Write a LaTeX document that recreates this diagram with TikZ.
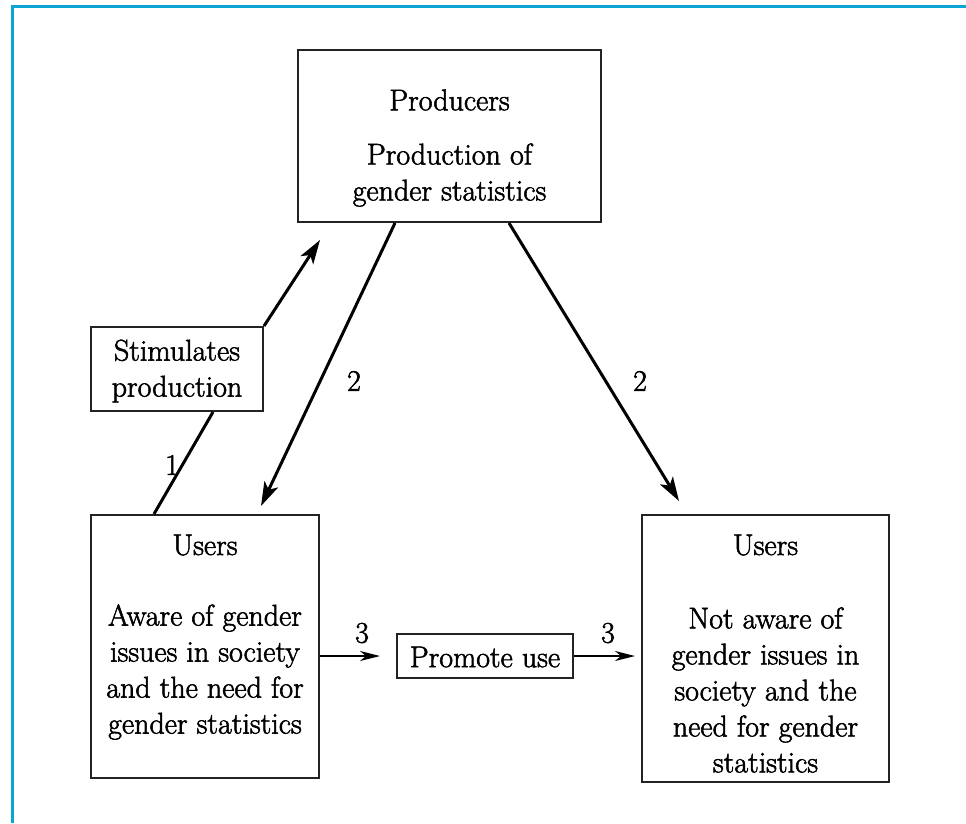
\documentclass[tikz,border=0pt]{standalone}
\usepackage{fontspec}
\newfontfamily\diagfont{Latin Modern Roman}[FakeBold=1.8]
\usetikzlibrary{arrows.meta}
\definecolor{frame}{RGB}{10,165,210}
\definecolor{boxline}{RGB}{35,35,35}
\begin{document}
\begin{tikzpicture}[x=1pt,y=-1pt,
  box/.style={draw=boxline,line width=2pt,inner sep=0pt},
  txt/.style={font=\diagfont\fontsize{30}{36}\selectfont,align=center,inner sep=0pt},
  lbl/.style={font=\diagfont\fontsize{30}{36}\selectfont,inner sep=0pt},
  bigarrow/.style={line width=3pt,-{Stealth[length=24pt,width=15pt,inset=6pt]}},
  smallarrow/.style={line width=1.6pt,-{Stealth[length=20pt,width=10pt,inset=6pt]}}]
\useasboundingbox (0,0) rectangle (966,823);
\fill[white] (0,0) rectangle (966,823);
\draw[frame,line width=3pt] (11,6) -- (966,6);
\draw[frame,line width=3pt] (12.5,4.5) -- (12.5,823);

% boxes
\node[box,minimum width=303pt,minimum height=172pt] (prod) at (449.5,136) {};
\node[txt] (prodhead) at (449.5,100) {Producers};
\node[txt] (prodbody) at (449.5,175) {Production of\\gender statistics};

\node[box,minimum width=228pt,minimum height=263pt] (ul) at (205,646.5) {};
\node[txt] (ulhead) at (205,545) {Users};
\node[txt] (ulbody) at (205,672) {Aware of gender\\issues in society\\and the need for\\gender statistics};

\node[box,minimum width=247pt,minimum height=267pt] (ur) at (765.5,648.5) {};
\node[txt] (urhead) at (765.5,545) {Users};
\node[txt] (urbody) at (765.5,690) {Not aware of\\gender issues in\\society and the\\need for gender\\statistics};

\node[box,minimum width=172pt,minimum height=84pt] (stim) at (177,369) {};
\node[txt] (stimtext) at (177,371) {Stimulates\\production};

\node[box,minimum width=176pt,minimum height=44pt] (prom) at (485,656) {};
\node[txt] (promtext) at (485,657) {Promote use};

% connectors
\coordinate (tip1) at (320,240);
\draw[line width=3pt] ([xshift=64pt]ul.north west) -- ([xshift=123pt]stim.south west);
\draw[bigarrow] (stim.north east) -- (tip1);
\draw[bigarrow] ([xshift=98pt]prod.south west) -- ([xshift=171pt,yshift=8pt]ul.north west);
\draw[bigarrow] ([xshift=212pt]prod.south west) -- ([xshift=38pt,yshift=13pt]ur.north west);
\draw[smallarrow] (ul.east |- prom.west) -- ([xshift=-16pt]prom.west);
\draw[smallarrow] (prom.east) -- ([xshift=-6pt]ur.west |- prom.east);

% labels
\node[lbl] (n1) at (172,465) {1};
\node[lbl] (n2a) at (354,381) {2};
\node[lbl] (n2b) at (640,381) {2};
\node[lbl] (n3a) at (362,633) {3};
\node[lbl] (n3b) at (608,633) {3};
\end{tikzpicture}
\end{document}
